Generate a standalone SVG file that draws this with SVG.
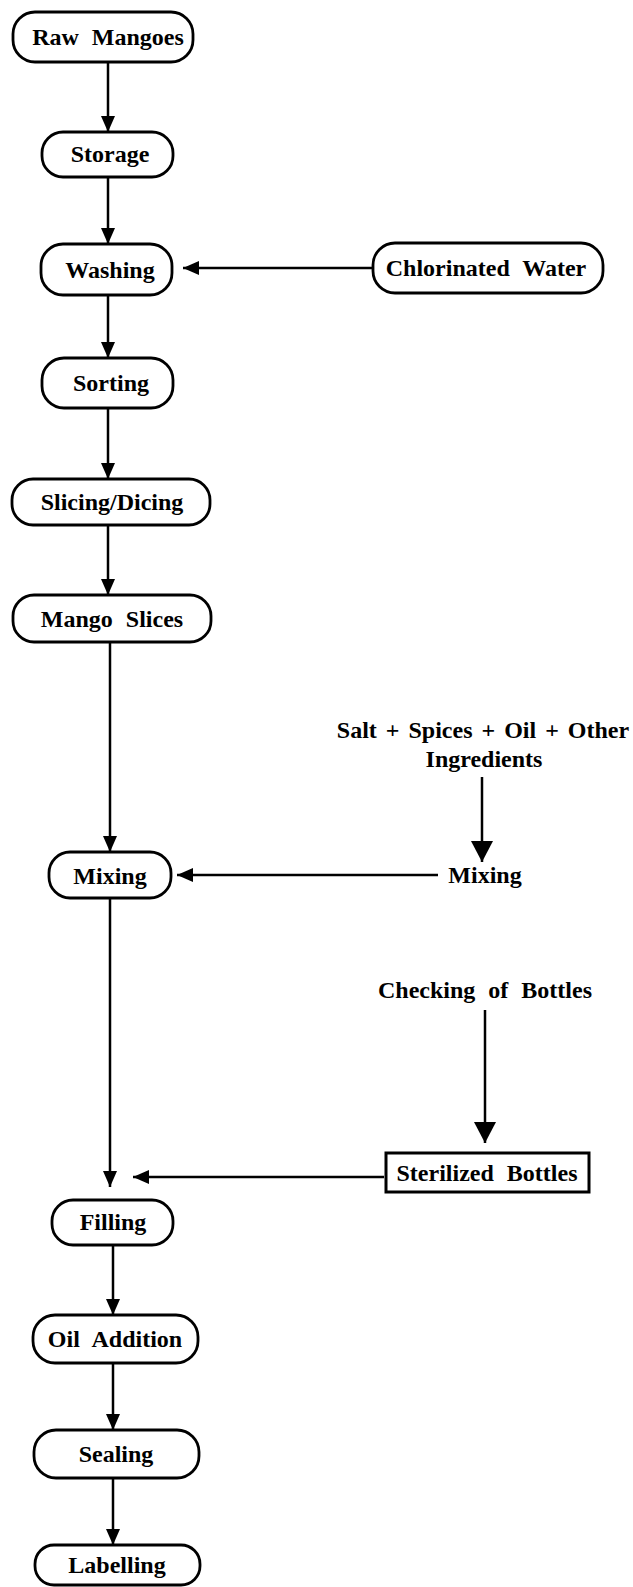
<svg xmlns="http://www.w3.org/2000/svg" width="633" height="1587" viewBox="0 0 633 1587">
<style>
.n{fill:#fff;stroke:#000;stroke-width:2.8}
.t{font-family:"Liberation Serif","Times New Roman",serif;font-weight:bold;font-size:24px;fill:#000;text-anchor:middle;word-spacing:1px}
.w{word-spacing:7px}
.c{stroke:#000;stroke-width:2.5;fill:none}
</style>
<defs>
<marker id="a" viewBox="0 0 16 14" refX="16" refY="7" markerWidth="16" markerHeight="14" markerUnits="userSpaceOnUse" orient="auto"><path d="M0,0 L16,7 L0,14 z" fill="#000"/></marker>
<marker id="b" viewBox="0 0 21 22" refX="21" refY="11" markerWidth="21" markerHeight="22" markerUnits="userSpaceOnUse" orient="auto"><path d="M0,0 L21,11 L0,22 z" fill="#000"/></marker>
</defs>
<rect width="633" height="1587" fill="#fff"/>
<g id="connectors">
<line class="c" x1="108" y1="62" x2="108" y2="132" marker-end="url(#a)"/>
<line class="c" x1="108" y1="177" x2="108" y2="244" marker-end="url(#a)"/>
<line class="c" x1="373" y1="268" x2="183" y2="268" marker-end="url(#a)"/>
<line class="c" x1="108" y1="295" x2="108" y2="358" marker-end="url(#a)"/>
<line class="c" x1="108" y1="408" x2="108" y2="479" marker-end="url(#a)"/>
<line class="c" x1="108" y1="525" x2="108" y2="595" marker-end="url(#a)"/>
<line class="c" x1="110" y1="642" x2="110" y2="852" marker-end="url(#a)"/>
<line class="c" x1="482" y1="777" x2="482" y2="862" marker-end="url(#b)"/>
<line class="c" x1="438" y1="875" x2="177" y2="875" marker-end="url(#a)"/>
<line class="c" x1="110" y1="898" x2="110" y2="1187" marker-end="url(#a)"/>
<line class="c" x1="485" y1="1010" x2="485" y2="1143" marker-end="url(#b)"/>
<line class="c" x1="384" y1="1177" x2="133" y2="1177" marker-end="url(#a)"/>
<line class="c" x1="113" y1="1245" x2="113" y2="1315" marker-end="url(#a)"/>
<line class="c" x1="113" y1="1363" x2="113" y2="1430" marker-end="url(#a)"/>
<line class="c" x1="113" y1="1478" x2="113" y2="1545" marker-end="url(#a)"/>
</g>
<g id="raw-mangoes"><rect class="n" x="13" y="12" width="180" height="50" rx="22"/><text class="t w" x="108" y="45">Raw Mangoes</text></g>
<g id="storage"><rect class="n" x="42" y="132" width="131" height="45" rx="21"/><text class="t" x="110" y="162">Storage</text></g>
<g id="washing"><rect class="n" x="41" y="244" width="131" height="51" rx="22"/><text class="t" x="110" y="278">Washing</text></g>
<g id="chlorinated-water"><rect class="n" x="373" y="243" width="230" height="50" rx="22"/><text class="t w" x="486" y="276">Chlorinated Water</text></g>
<g id="sorting"><rect class="n" x="42" y="358" width="131" height="50" rx="22"/><text class="t" x="111" y="391">Sorting</text></g>
<g id="slicing-dicing"><rect class="n" x="12" y="479" width="198" height="46" rx="21"/><text class="t" x="112" y="510">Slicing/Dicing</text></g>
<g id="mango-slices"><rect class="n" x="13" y="595" width="198" height="47" rx="21"/><text class="t w" x="112" y="627">Mango Slices</text></g>
<g id="mixing"><rect class="n" x="49" y="852" width="122" height="46" rx="21"/><text class="t" x="110" y="884">Mixing</text></g>
<g id="ingredients"><text class="t" x="483" y="738" style="word-spacing:3px">Salt + Spices + Oil + Other</text><text class="t" x="484" y="767">Ingredients</text></g>
<g id="mixing-ingredients"><text class="t" x="485" y="883">Mixing</text></g>
<g id="checking-bottles"><text class="t w" x="485" y="998">Checking of Bottles</text></g>
<g id="sterilized-bottles"><rect x="386" y="1153" width="203" height="39" fill="#fff" stroke="#000" stroke-width="3"/><text class="t w" x="487" y="1181">Sterilized Bottles</text></g>
<g id="filling"><rect class="n" x="52" y="1200" width="121" height="45" rx="21"/><text class="t" x="113" y="1230">Filling</text></g>
<g id="oil-addition"><rect class="n" x="33" y="1315" width="165" height="48" rx="22"/><text class="t w" x="115" y="1347">Oil Addition</text></g>
<g id="sealing"><rect class="n" x="34" y="1430" width="165" height="48" rx="22"/><text class="t" x="116" y="1462">Sealing</text></g>
<g id="labelling"><rect class="n" x="35" y="1545" width="165" height="40" rx="19"/><text class="t" x="117" y="1573">Labelling</text></g>
</svg>
